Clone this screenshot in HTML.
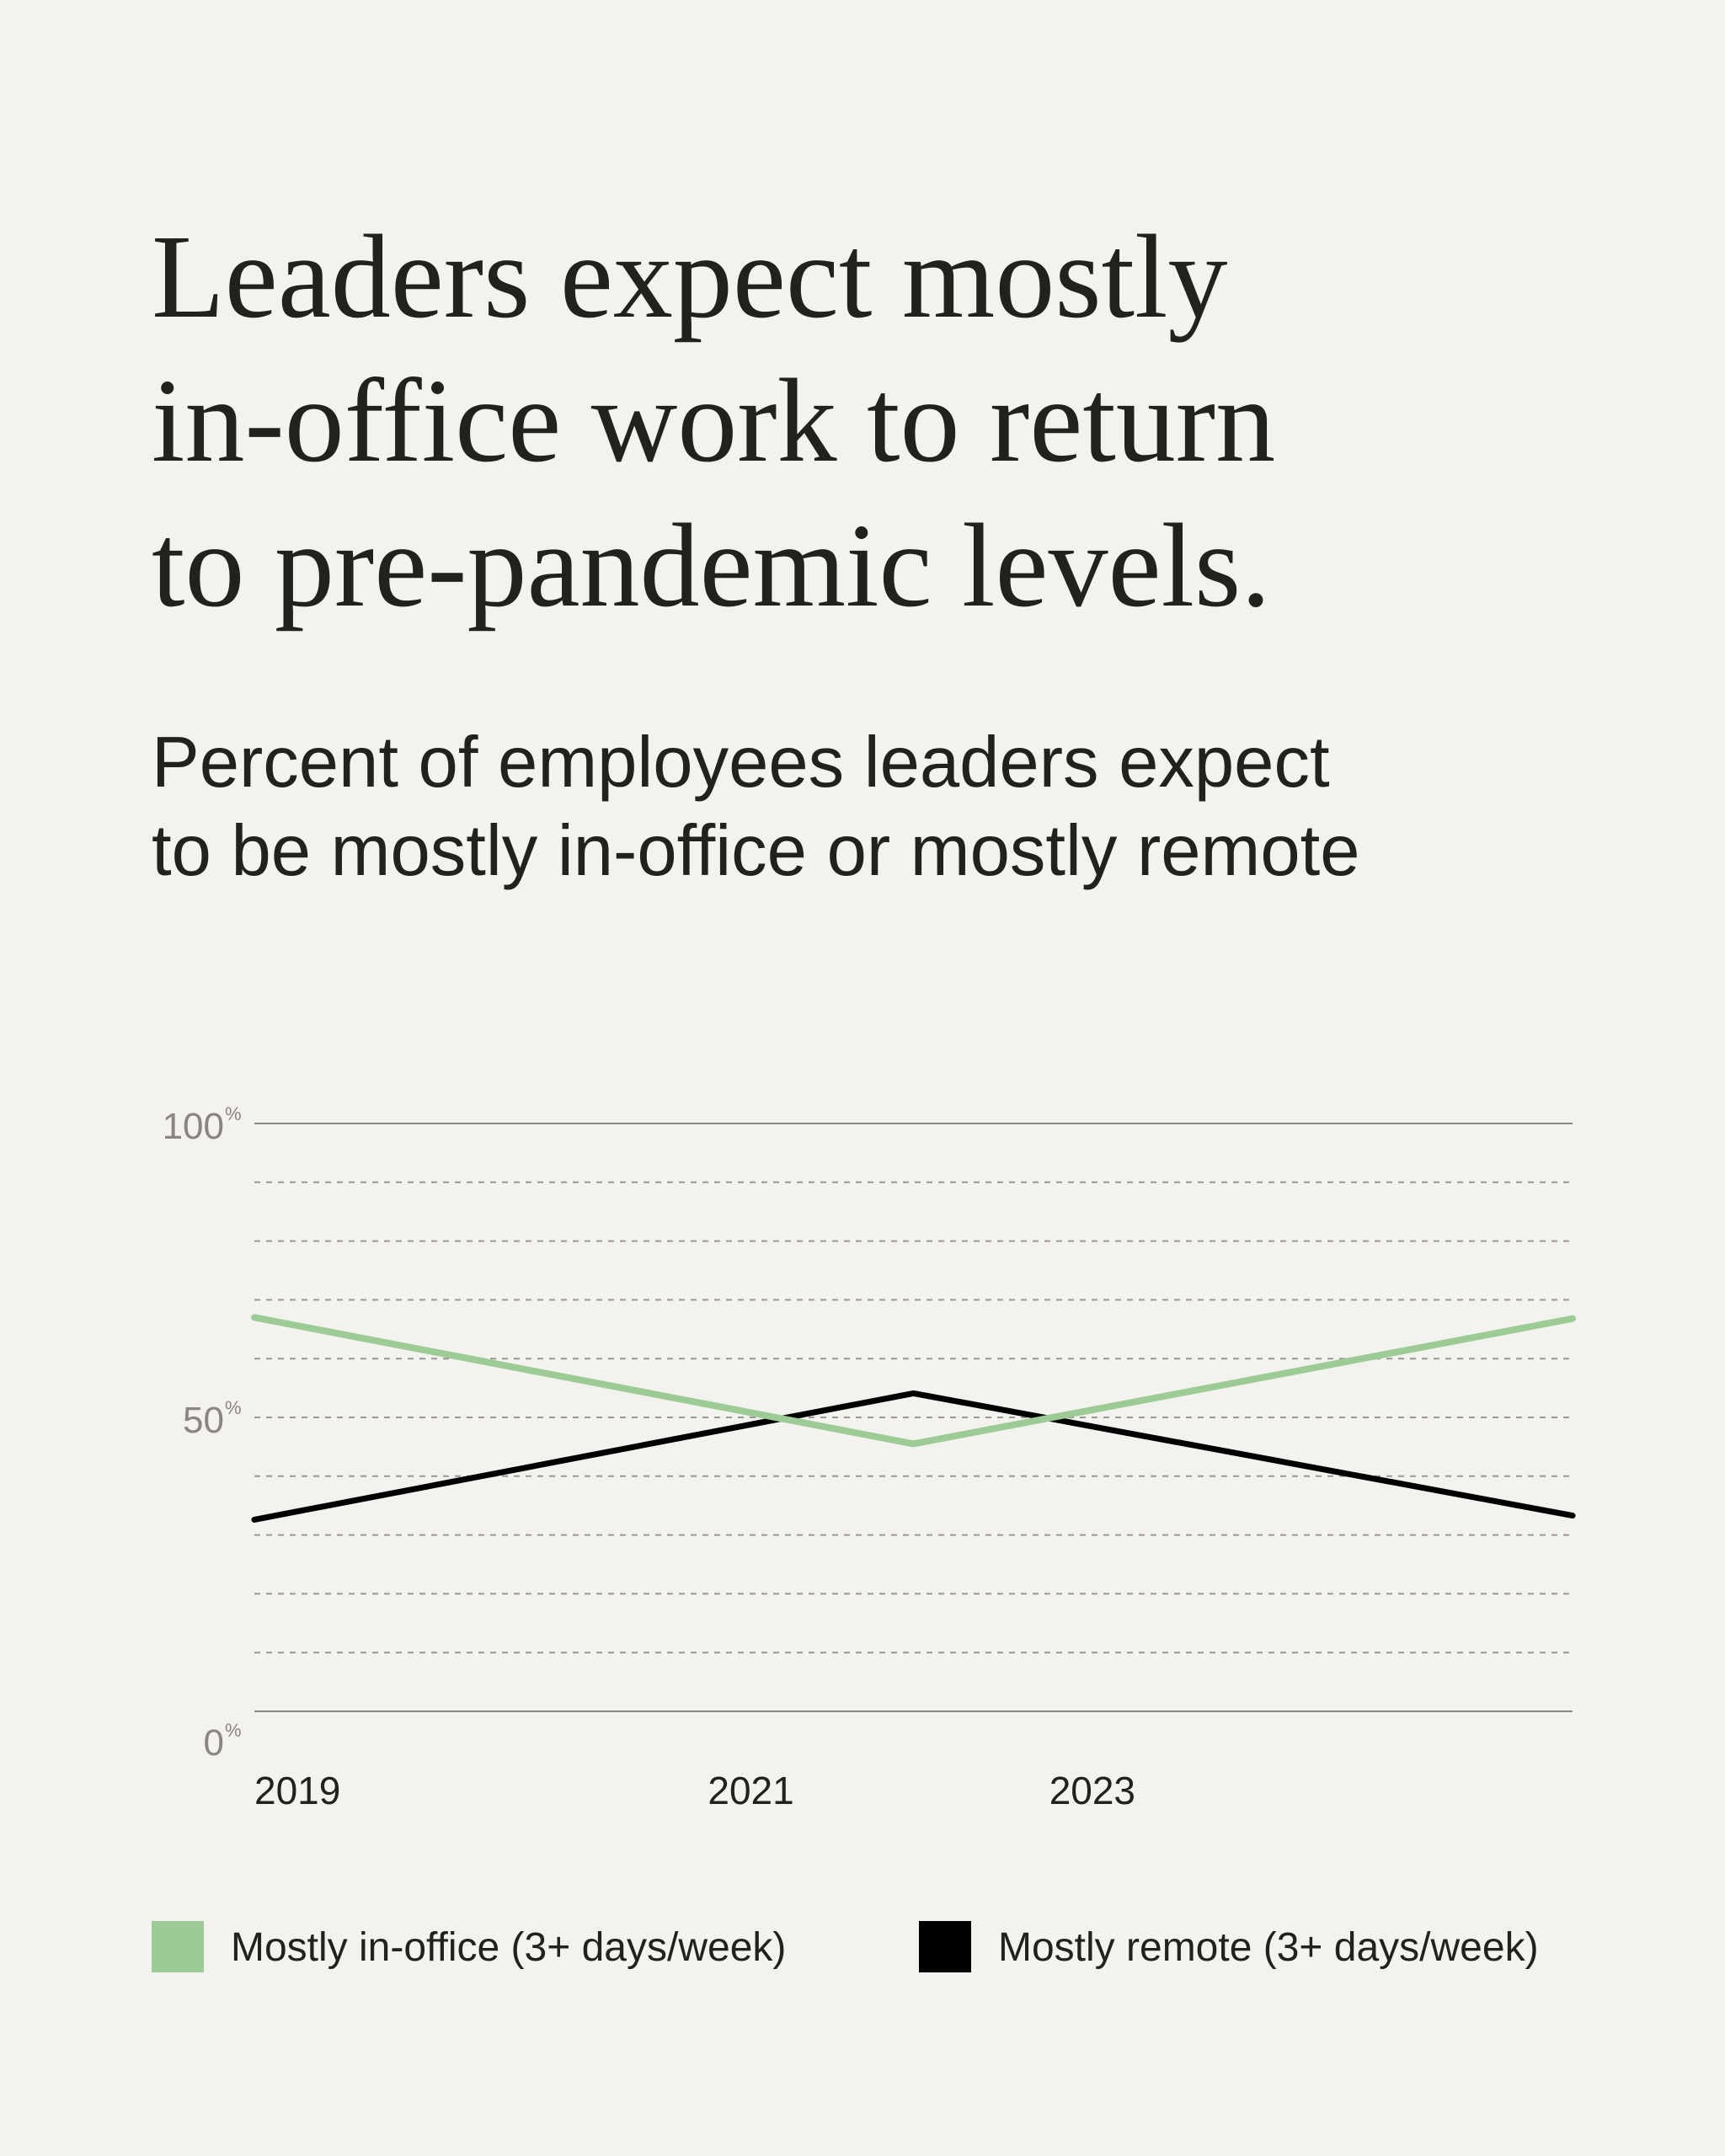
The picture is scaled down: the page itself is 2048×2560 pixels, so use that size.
<!DOCTYPE html>
<html><head><meta charset="utf-8"><style>
html,body{margin:0;padding:0;background:#f4f2ee;}
body{width:2048px;height:2560px;position:relative;overflow:hidden;}
svg{position:absolute;left:0;top:0;}
</style></head><body>
<svg id="chart" width="2048" height="2560" viewBox="0 0 2048 2560" xmlns="http://www.w3.org/2000/svg">
<rect width="2048" height="2560" fill="#f4f2ee"/>
<g font-family="'Liberation Serif',serif" font-size="142" fill="#23211e" letter-spacing="0">
<text x="180" y="376">Leaders expect mostly</text>
<text x="180" y="547">in-office work to return</text>
<text x="180" y="719">to pre-pandemic levels.</text>
</g>
<g font-family="'Liberation Sans',sans-serif" font-size="85" fill="#23211e">
<text x="180" y="934">Percent of employees leaders expect</text>
<text x="180" y="1039">to be mostly in-office or mostly remote</text>
</g>
<g id="grid"></g>
<g id="yticks"></g>
<g id="xticks"></g>
<g id="series"></g>
<g font-family="'Liberation Sans',sans-serif" font-size="48" fill="#23211e">
<g>
<rect x="180" y="2281" width="62" height="61" fill="#9dcb95"/>
<text x="274" y="2328">Mostly in-office (3+ days/week)</text>
</g>
<g>
<rect x="1091" y="2281" width="62" height="61" fill="#000"/>
<text x="1185" y="2328">Mostly remote (3+ days/week)</text>
</g>
</g>
</svg>
<script>
const categories = ["2019", "2022", "2025"];
const catPos = [0, 0.5, 1];
const inOffice = [67, 45.5, 66.8];
const remote = [32.6, 54.1, 33.3];
const yTickValues = [0, 50, 100];
const yTickLabels = ["0", "50", "100"];
const xTickLabels = ["2019", "2021", "2023"];
const xTickPos = [0, 0.344, 0.603];

const NS = "http://www.w3.org/2000/svg";
const L = 302, R = 1867, T = 1334, B = 2032;
function x(f){ return L + f * (R - L); }
function y(v){ return B - v / 100 * (B - T); }
function mk(tag, attrs, parent){ const e = document.createElementNS(NS, tag); for (const k in attrs) e.setAttribute(k, attrs[k]); parent.appendChild(e); return e; }

const grid = document.getElementById('grid');
for (let v = 0; v <= 100; v += 10) {
  const solid = (v === 0 || v === 100);
  const ln = mk('line', {x1: L, x2: R, y1: y(v), y2: y(v), stroke: solid ? '#8a8886' : '#9a9794', 'stroke-width': 2, 'stroke-dasharray': solid ? 'none' : '7 7'}, grid);
  
  
}
const yt = document.getElementById('yticks');
yTickValues.forEach((v, i) => {
  const t = mk('text', {x: 266, y: y(v) + 18 + (v === 0 ? 34 : 0), 'text-anchor': 'end', 'font-family': "'Liberation Sans',sans-serif", 'font-size': 44, fill: '#8a8580'}, yt);
  t.textContent = yTickLabels[i];
  
  
  const p = mk('text', {x: 267, y: y(v) - 4 + (v === 0 ? 34 : 0), 'font-family': "'Liberation Sans',sans-serif", 'font-size': 22, fill: '#8a8580'}, yt);
  p.textContent = '%';
  
  
});
const xt = document.getElementById('xticks');
xTickLabels.forEach((lab, i) => {
  const t = mk('text', {x: x(xTickPos[i]), y: 2142, 'font-family': "'Liberation Sans',sans-serif", 'font-size': 46, fill: '#23211e'}, xt);
  t.textContent = lab;
  
  
});
const sg = document.getElementById('series');
function line(vals, color, w, name){
  const pts = vals.map((v, i) => x(catPos[i]) + ',' + y(v)).join(' ');
  const pl = mk('polyline', {points: pts, fill: 'none', stroke: color, 'stroke-width': w, 'stroke-linejoin': 'miter', 'stroke-linecap': 'round'}, sg);
  
  
}
line(remote, '#000000', 7, 'line-mostly-remote');
line(inOffice, '#9dcb95', 8, 'line-mostly-in-office');
</script>
</body></html>
